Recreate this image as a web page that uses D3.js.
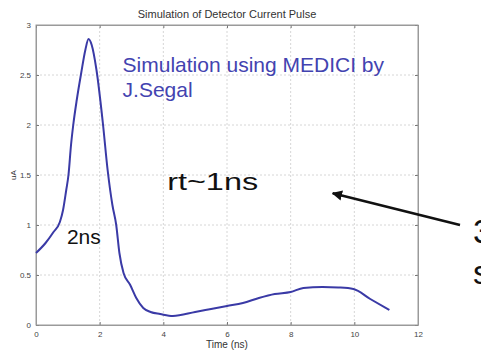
<!DOCTYPE html>
<html>
<head>
<meta charset="utf-8">
<script src="https://cdn.jsdelivr.net/npm/d3@7"></script>
<style>
  body { margin: 0; background: #fff; }
  svg { display: block; font-family: "Liberation Sans", Arial, sans-serif; }
</style>
</head>
<body>
<div class="chart-container"></div>
<script>
// pulse: time (ns) vs current (uA)
var timeNs = [0, 0.3, 0.55, 0.75, 0.85, 0.95, 1.02, 1.1, 1.17, 1.28, 1.42, 1.55, 1.65, 1.75, 1.9, 2.1, 2.25, 2.4, 2.52, 2.62, 2.75, 2.96, 3.15, 3.37, 3.6, 3.9, 4.3, 5.0, 5.5, 6.0, 6.5, 7.0, 7.5, 8.0, 8.4, 9.0, 9.5, 9.97, 10.5, 11.1];
var currentUA = [0.72, 0.82, 0.93, 1.03, 1.15, 1.35, 1.5, 1.8, 2.0, 2.25, 2.52, 2.75, 2.86, 2.8, 2.55, 2.02, 1.55, 1.2, 1.0, 0.72, 0.52, 0.4, 0.27, 0.17, 0.13, 0.11, 0.09, 0.13, 0.16, 0.19, 0.22, 0.27, 0.31, 0.33, 0.37, 0.38, 0.375, 0.36, 0.26, 0.15];

var xTicks = [0, 2, 4, 6, 8, 10, 12];
var yTicks = [0, 0.5, 1, 1.5, 2, 2.5, 3];

var chartTitle = 'Simulation of Detector Current Pulse';
var xLabel = 'Time (ns)';
var yLabel = 'uA';

var width = 481;
var height = 351;
var margin = {top: 25, right: 63, bottom: 26, left: 36};

var pulse = timeNs.map((t, i) => ({t: t, v: currentUA[i]}));

var x = d3.scaleLinear()
  .domain([0, 12])
  .range([margin.left, width - margin.right]);

var y = d3.scaleLinear()
  .domain([0, 3])
  .range([height - margin.bottom, margin.top]);

var svg = d3.select('.chart-container').append('svg')
  .attr('width', width)
  .attr('height', height);

// grid
svg.append('g')
  .selectAll('line')
  .data(xTicks.slice(1, -1))
  .enter().append('line')
    .attr('x1', d => x(d)).attr('x2', d => x(d))
    .attr('y1', y(0)).attr('y2', y(3))
    .style('stroke', '#d6d6d6')
    .style('stroke-dasharray', '2,2');

svg.append('g')
  .selectAll('line')
  .data(yTicks.slice(1, -1))
  .enter().append('line')
    .attr('x1', x(0)).attr('x2', x(12))
    .attr('y1', d => y(d)).attr('y2', d => y(d))
    .style('stroke', '#d6d6d6')
    .style('stroke-dasharray', '2,2');

// axes, ticks pointing in
var xAxis = d3.axisBottom(x).tickValues(xTicks).tickSizeInner(-3).tickSizeOuter(0).tickPadding(6);
var yAxis = d3.axisLeft(y).tickValues(yTicks).tickSizeInner(-3).tickSizeOuter(0).tickPadding(5)
  .tickFormat(d3.format('~g'));

svg.append('g')
  .attr('transform', `translate(0,${y(0)})`)
  .call(xAxis);
svg.append('g')
  .attr('transform', `translate(${x(0)},0)`)
  .call(yAxis);

svg.append('g')
  .attr('transform', `translate(0,${y(3)})`)
  .call(d3.axisTop(x).tickValues(xTicks).tickSizeInner(-3).tickSizeOuter(0).tickFormat(''));
svg.append('g')
  .attr('transform', `translate(${x(12)},0)`)
  .call(d3.axisRight(y).tickValues(yTicks).tickSizeInner(-3).tickSizeOuter(0).tickFormat(''));

svg.selectAll('.domain').style('stroke', '#9a9a9a');
svg.selectAll('.tick line').style('stroke', '#777');
svg.selectAll('.tick text').style('font-size', '8px').style('fill', '#444');

svg.append('rect')
  .attr('x', x(0)).attr('y', y(3))
  .attr('width', x(12) - x(0)).attr('height', y(0) - y(3))
  .style('fill', 'none')
  .style('stroke', '#9a9a9a');

// titles
svg.append('text')
  .attr('x', (x(0) + x(12)) / 2)
  .attr('y', 18)
  .attr('text-anchor', 'middle')
  .style('font-size', '11px')
  .style('fill', '#333')
  .text(chartTitle);

svg.append('text')
  .attr('x', (x(0) + x(12)) / 2)
  .attr('y', 348)
  .attr('text-anchor', 'middle')
  .style('font-size', '10px')
  .style('fill', '#333')
  .text(xLabel);

svg.append('text')
  .attr('transform', `translate(16,${y(1.5)}) rotate(-90)`)
  .attr('text-anchor', 'middle')
  .style('font-size', '8px')
  .style('fill', '#333')
  .text(yLabel);

// the pulse
var line = d3.line()
  .x(d => x(d.t))
  .y(d => y(d.v))
  .curve(d3.curveMonotoneX);

svg.append('path')
  .datum(pulse)
  .attr('d', line)
  .style('fill', 'none')
  .style('stroke', '#3a3aa6')
  .style('stroke-width', 2);

// annotations
svg.append('text')
  .attr('x', x(2.72)).attr('y', y(2.53))
  .style('font-size', '21px')
  .style('fill', '#4343b0')
  .text('Simulation using MEDICI by');
svg.append('text')
  .attr('x', x(2.72)).attr('y', y(2.28))
  .style('font-size', '21px')
  .style('fill', '#4343b0')
  .text('J.Segal');

svg.append('text')
  .attr('x', x(4.12)).attr('y', y(1.35))
  .attr('textLength', 91)
  .attr('lengthAdjust', 'spacingAndGlyphs')
  .style('font-size', '24px')
  .style('fill', '#111')
  .text('rt~1ns');

svg.append('text')
  .attr('x', x(0.97)).attr('y', y(0.81))
  .style('font-size', '21px')
  .style('fill', '#111')
  .text('2ns');

svg.append('defs').append('marker')
  .attr('id', 'head')
  .attr('viewBox', '0 0 10 10')
  .attr('refX', 9).attr('refY', 5)
  .attr('markerWidth', 4).attr('markerHeight', 4)
  .attr('orient', 'auto')
  .append('path')
    .attr('d', 'M0,0L10,5L0,10Z')
    .style('fill', '#111');

svg.append('line')
  .attr('x1', x(13.32)).attr('y1', y(1.0))
  .attr('x2', x(9.32)).attr('y2', y(1.317))
  .style('stroke', '#111')
  .style('stroke-width', 2.6)
  .attr('marker-end', 'url(#head)');

// text cut by the right edge, as in the picture
svg.append('text')
  .attr('x', x(13.73)).attr('y', y(0.82))
  .style('font-size', '34px')
  .style('fill', '#111')
  .text('3');
svg.append('text')
  .attr('x', x(13.73)).attr('y', y(0.41))
  .style('font-size', '34px')
  .style('fill', '#111')
  .text('s');
</script>
</body>
</html>
